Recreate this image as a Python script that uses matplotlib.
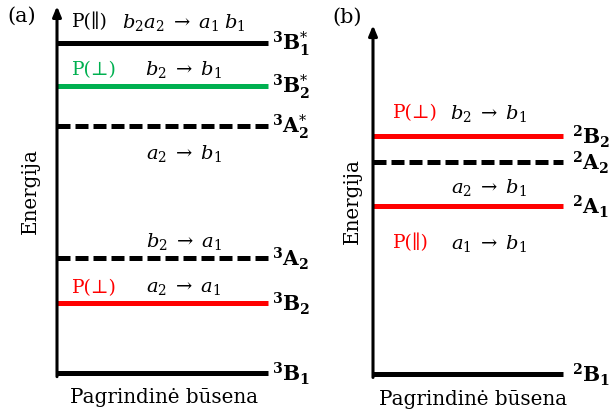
import matplotlib
matplotlib.use('Agg')
import matplotlib.pyplot as plt

plt.rcParams['font.family'] = ['DejaVu Serif', 'DejaVu Sans']
plt.rcParams['mathtext.fontset'] = 'dejavuserif'

# (a) triplet states, (b) doublet states; energies in arbitrary units, ground = 0
states_a = [r'$^{\mathbf{3}}\mathbf{B}_{\mathbf{1}}^{*}$', r'$^{\mathbf{3}}\mathbf{B}_{\mathbf{2}}^{*}$',
            r'$^{\mathbf{3}}\mathbf{A}_{\mathbf{2}}^{*}$', r'$^{\mathbf{3}}\mathbf{A}_{\mathbf{2}}$',
            r'$^{\mathbf{3}}\mathbf{B}_{\mathbf{2}}$', r'$^{\mathbf{3}}\mathbf{B}_{\mathbf{1}}$']
energy_a = [9.04, 7.86, 6.77, 3.15, 1.92, 0.0]
color_a = ['black', '#00b050', 'black', 'black', '#ff0000', 'black']
dashed_a = [False, False, True, True, False, False]

states_b = [r'$^{\mathbf{2}}\mathbf{B}_{\mathbf{2}}$', r'$^{\mathbf{2}}\mathbf{A}_{\mathbf{2}}$',
            r'$^{\mathbf{2}}\mathbf{A}_{\mathbf{1}}$', r'$^{\mathbf{2}}\mathbf{B}_{\mathbf{1}}$']
energy_b = [6.86, 6.11, 4.84, 0.0]
color_b = ['#ff0000', 'black', '#ff0000', 'black']
dashed_b = [False, True, False, False]

# transitions: (polarisation, colour of polarisation, orbital excitation, level index, offset from level)
trans_a = [('P(∥)', 'black', r'$b_2a_2 \;\rightarrow\; a_1\;b_1$', 0, 0.60),
           ('P(⊥)', '#00b050', r'$b_2 \;\rightarrow\; b_1$', 1, 0.47),
           ('', 'black', r'$a_2 \;\rightarrow\; b_1$', 2, -0.72),
           ('', 'black', r'$b_2 \;\rightarrow\; a_1$', 3, 0.49),
           ('P(⊥)', '#ff0000', r'$a_2 \;\rightarrow\; a_1$', 4, 0.44)]
trans_b = [('P(⊥)', '#ff0000', r'$b_2 \;\rightarrow\; b_1$', 0, 0.69),
           ('', 'black', r'$a_2 \;\rightarrow\; b_1$', 2, 0.55),
           ('P(∥)', '#ff0000', r'$a_1 \;\rightarrow\; b_1$', 2, -1.04)]

W, H = 613, 414
fig = plt.figure(figsize=(W / 100, H / 100), dpi=100)


def px_axes(x0, x1, y_top, y_bot):
    return fig.add_axes([x0 / W, 1 - y_bot / H, (x1 - x0) / W, (y_bot - y_top) / H])


def draw_panel(ax, states, energy, colors, dashed, trans, p_x, t_x, lab_x, ylab_x):
    ax.set_xlim(0, 1)
    ax.set_ylim(0, 10)
    ax.axis('off')
    for name, e, c, d in zip(states, energy, colors, dashed):
        ls = (0, (2.6, 1.0)) if d else '-'
        ax.plot([0, 1], [e, e], color=c, lw=3.6, ls=ls, solid_capstyle='butt',
                clip_on=False)
        ax.text(lab_x, e, name, fontsize=14.5, va='center', ha='left')
    ax.annotate('', xy=(0, 10.05), xytext=(0, -0.1),
                arrowprops=dict(arrowstyle='-|>,head_width=0.25,head_length=0.6',
                                lw=2.2, color='black', shrinkA=0, shrinkB=0),
                annotation_clip=False)
    for pol, pc, orb, i, off in trans:
        y = energy[i] + off
        if pol:
            ax.text(p_x, y, pol, color=pc, fontsize=13.5, ha='left', va='center')
        ax.text(t_x, y, orb, color='black', fontsize=14, ha='center', va='center')
    ax.text(ylab_x, 0.5, 'Energija', transform=ax.transAxes, rotation=90,
            fontsize=14.3, ha='center', va='center')


ax_a = px_axes(57, 268, 9, 374)
draw_panel(ax_a, states_a, energy_a, color_a, dashed_a, trans_a, 0.07, 0.60, 1.02, -0.125)
fig.text(22 / W, 1 - 16 / H, '(a)', fontsize=15, ha='center', va='center')
fig.text(164 / W, 1 - 398 / H, 'Pagrindinė būsena', fontsize=14.3, ha='center', va='center')

ax_b = px_axes(373, 563, 28, 375)
draw_panel(ax_b, states_b, energy_b, color_b, dashed_b, trans_b, 0.105, 0.61, 1.047, -0.11)
fig.text(347 / W, 1 - 17 / H, '(b)', fontsize=15, ha='center', va='center')
fig.text(473 / W, 1 - 400 / H, 'Pagrindinė būsena', fontsize=14.3, ha='center', va='center')

fig.savefig('out.png', dpi=100)
